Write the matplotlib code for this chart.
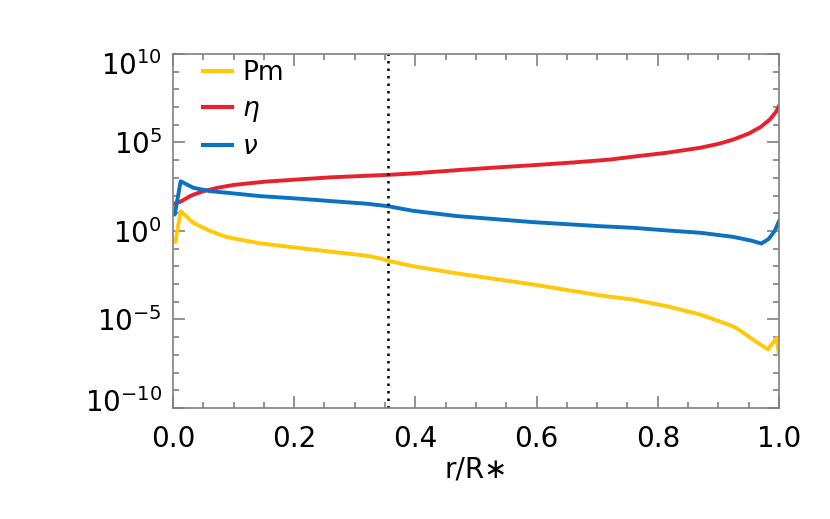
import numpy as np
import matplotlib
matplotlib.use("Agg")
import matplotlib.pyplot as plt
import matplotlib.transforms as mtransforms

# values (r/R*, log10 of quantity)
r_eta = [0.0, 0.012, 0.03, 0.05, 0.075, 0.1, 0.15, 0.21, 0.26, 0.32, 0.36, 0.4,
         0.47, 0.53, 0.6, 0.66, 0.72, 0.76, 0.815, 0.87, 0.9, 0.925, 0.95, 0.97,
         0.985, 0.995, 1.0]
log_eta = [1.52, 1.65, 2.0, 2.25, 2.45, 2.6, 2.78, 2.92, 3.03, 3.12, 3.18, 3.26,
           3.44, 3.58, 3.73, 3.87, 4.03, 4.2, 4.42, 4.7, 4.92, 5.17, 5.5, 5.88,
           6.3, 6.72, 7.05]

r_nu = [0.0, 0.003, 0.0127, 0.0335, 0.061, 0.089, 0.144, 0.21, 0.264, 0.32,
        0.355, 0.396, 0.469, 0.594, 0.705, 0.759, 0.815, 0.87, 0.924, 0.955,
        0.971, 0.983, 0.993, 1.0]
log_nu = [1.03, 0.93, 2.81, 2.44, 2.25, 2.16, 1.97, 1.82, 1.68, 1.54,
          1.40, 1.14, 0.84, 0.5, 0.27, 0.18, 0.03, -0.1, -0.33, -0.55,
          -0.71, -0.45, 0.0, 0.55]

r_pm = [0.0, 0.004, 0.0127, 0.0335, 0.061, 0.089, 0.144, 0.21, 0.264, 0.32,
        0.342, 0.355, 0.396, 0.469, 0.594, 0.705, 0.759, 0.815, 0.87, 0.924,
        0.936, 0.969, 0.982, 0.996, 1.0]
log_pm = [-0.48, -0.63, 1.12, 0.46, 0.0, -0.35, -0.7, -0.97, -1.18, -1.4,
          -1.55, -1.68, -1.99, -2.4, -3.02, -3.64, -3.87, -4.25, -4.72, -5.38,
          -5.63, -6.41, -6.69, -6.05, -6.97]

r_boundary = 0.355

y_ticks = [1e-10, 1e-5, 1e0, 1e5, 1e10]
y_ticklabels = [r'$10^{-10}$', r'$10^{-5}$', r'$10^{0}$', r'$10^{5}$', r'$10^{10}$']
x_ticks = [0.0, 0.2, 0.4, 0.6, 0.8, 1.0]

plt.rcParams['font.family'] = ['DejaVu Sans']
plt.rcParams['mathtext.fontset'] = 'dejavusans'

c_pm = '#ffc80a'
c_eta = '#e8212e'
c_nu = '#0a72c0'
c_axis = '#808080'

fig = plt.figure(figsize=(8.3, 5.19), dpi=100, facecolor='w')
ax = fig.add_axes([0.2084, 0.2139, 0.7301, 0.6821])

ax.plot(r_pm, 10.0 ** np.array(log_pm), color=c_pm, lw=2.8, label='Pm')
ax.plot(r_eta, 10.0 ** np.array(log_eta), color=c_eta, lw=2.8, label=r'$\eta$')
ax.plot(r_nu, 10.0 ** np.array(log_nu), color=c_nu, lw=2.8, label=r'$\nu$')
ax.axvline(r_boundary, color='k', lw=1.8, linestyle=(0, (1, 2)))

ax.set_yscale('log')
ax.set_xlim(0, 1)
ax.set_ylim(1e-10, 1e10)

ax.set_yticks(y_ticks)
ax.set_yticklabels(y_ticklabels)
ax.yaxis.set_minor_locator(matplotlib.ticker.FixedLocator(10.0 ** np.arange(-10, 11)))
ax.yaxis.set_minor_formatter(matplotlib.ticker.NullFormatter())
ax.set_xticks(x_ticks)
ax.set_xticklabels(['%.1f' % v for v in x_ticks])
ax.xaxis.set_minor_locator(matplotlib.ticker.MultipleLocator(0.05))

for s in ax.spines.values():
    s.set_color(c_axis)
    s.set_linewidth(1.2)
ax.tick_params(which='both', direction='in', top=True, right=True, color=c_axis,
               width=1.2, labelsize=20)
ax.tick_params(which='major', length=8.5)
ax.tick_params(which='minor', length=4.3)
ax.tick_params(axis='x', pad=12)
ax.tick_params(axis='y', pad=8)

ax.set_xlabel('r/R\u2217', fontsize=20, labelpad=2)

leg = ax.legend(loc='upper left', bbox_to_anchor=(0.01, 1.05), frameon=False,
                fontsize=19, handlelength=1.1, handletextpad=0.4, labelspacing=0.38)
for h in leg.get_lines():
    h.set_linewidth(3)

# end labels on the y axis sit a little inside the frame
fig.canvas.draw()
labels = ax.get_yticklabels()
labels[0].set_transform(labels[0].get_transform() +
                        mtransforms.ScaledTranslation(0, 8 / 100, fig.dpi_scale_trans))
labels[-1].set_transform(labels[-1].get_transform() +
                         mtransforms.ScaledTranslation(0, -9 / 100, fig.dpi_scale_trans))

fig.savefig('out.png', dpi=100)
